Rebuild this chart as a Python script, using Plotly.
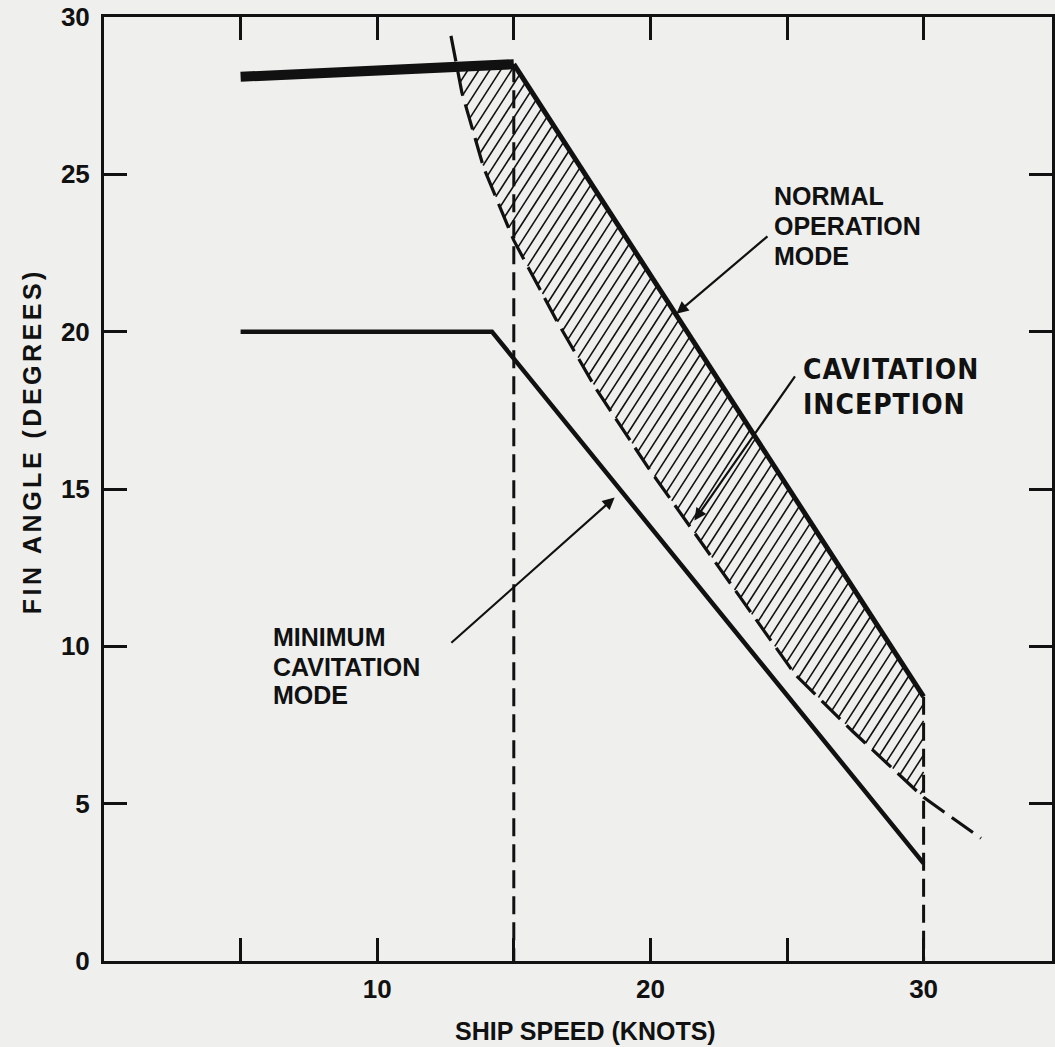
import numpy as np
import plotly.graph_objects as go

# Fin angle (degrees) versus ship speed (knots)
normal_speed = [5.0, 15.0, 30.0]          # normal operation mode
normal_angle = [28.1, 28.5, 8.4]

mincav_speed = [5.0, 14.2, 30.0]          # minimum cavitation mode
mincav_angle = [20.0, 20.0, 3.1]

incep_speed = [12.7, 13.1, 13.9, 15.0, 16.6, 18.0, 19.9, 21.7, 23.8, 25.3, 27.4, 30.0, 32.1]
incep_angle = [29.4, 27.6, 25.2, 22.9, 20.3, 18.2, 15.7, 13.5, 10.9, 9.1, 7.3, 5.2, 3.9]

x_tickvals = [5, 10, 15, 20, 25, 30]
x_ticktext = ["", "10", "", "20", "", "30"]
y_tickvals = [0, 5, 10, 15, 20, 25, 30]
y_ticktext = ["0", "5", "10", "15", "20", "25", "30"]

INK = "#111111"
PAPER = "#efefed"
FONT = "Liberation Sans"

# plot-area geometry in pixels, used to place the rotated axis titles
L, R, T, B = 104, 0, 17, 86
W, H = 1055, 1047
PW, PH = W - L - R, H - T - B


def upper(x):
    return np.interp(x, normal_speed, normal_angle)


def lower(x):
    return np.interp(x, incep_speed, incep_angle)


# hatched band between cavitation inception and the normal operation limit
x_end = normal_speed[-1]
probe = np.linspace(incep_speed[0], x_end, 4001)
x_tip = probe[np.argmax(upper(probe) - lower(probe) >= 0)]
grid = np.linspace(x_tip, x_end, 6000)
hatch_slope = 1.35
hatch_step = 0.54
c_lo = np.min(lower(grid) - hatch_slope * grid)
c_hi = np.max(upper(grid) - hatch_slope * grid)
hx, hy = [], []
for c in np.arange(c_lo + hatch_step / 2, c_hi, hatch_step):
    h = hatch_slope * grid + c
    inside = (h >= lower(grid)) & (h <= upper(grid))
    if inside.sum() < 2:
        continue
    xi = grid[inside]
    hx += [xi[0], xi[-1], None]
    hy += [hatch_slope * xi[0] + c, hatch_slope * xi[-1] + c, None]

fig = go.Figure()

fig.add_trace(go.Scatter(x=hx, y=hy, mode="lines",
                         line=dict(color=INK, width=1.6), hoverinfo="skip"))

# cavitation inception boundary
fig.add_trace(go.Scatter(x=incep_speed, y=incep_angle, mode="lines",
                         line=dict(color=INK, width=3.2, dash="26px,9px")))

# vertical speed limits
for s in (normal_speed[1], normal_speed[2]):
    fig.add_trace(go.Scatter(x=[s, s], y=[float(upper(s)), 0], mode="lines",
                             line=dict(color=INK, width=3, dash="18px,8px")))

# minimum cavitation mode
fig.add_trace(go.Scatter(x=mincav_speed, y=mincav_angle, mode="lines",
                         line=dict(color=INK, width=4.5)))

# normal operation mode: heavy flat segment, then the falling limit
fig.add_trace(go.Scatter(x=normal_speed[:2], y=normal_angle[:2], mode="lines",
                         line=dict(color=INK, width=10)))
fig.add_trace(go.Scatter(x=normal_speed[1:], y=normal_angle[1:], mode="lines",
                         line=dict(color=INK, width=5)))

label_font = dict(family=FONT, size=25, color=INK, weight="bold")
stencil_font = dict(family="DejaVu Sans Condensed", size=28, color=INK, weight="bold")

annotations = []
for text, yv in (("NORMAL", 24.3), ("OPERATION", 23.35), ("MODE", 22.4)):
    annotations.append(dict(x=24.45, y=yv, text=text, showarrow=False,
                            xanchor="left", yanchor="middle", font=label_font))
for text, yv in (("MINIMUM", 10.3), ("CAVITATION", 9.35), ("MODE", 8.45)):
    annotations.append(dict(x=6.1, y=yv, text=text, showarrow=False,
                            xanchor="left", yanchor="middle", font=label_font))
for text, yv in (("CAVITATION", 18.8), ("INCEPTION", 17.7)):
    annotations.append(dict(x=25.5, y=yv, showarrow=False,
                            text='<span style="letter-spacing:1px">' + text + '</span>',
                            xanchor="left", yanchor="middle", font=stencil_font))

# pointer arrows
for tip, tail in (((20.95, 20.57), (24.34, 23.07)),
                  ((18.69, 14.73), (12.66, 10.07)),
                  ((21.61, 14.0), (25.33, 18.63))):
    annotations.append(dict(x=tip[0], y=tip[1], ax=tail[0], ay=tail[1],
                            xref="x", yref="y", axref="x", ayref="y",
                            text="", showarrow=True, arrowhead=2,
                            arrowsize=1.1, arrowwidth=2.2, arrowcolor=INK))

# axis titles
annotations.append(dict(x=(32 - L) / PW, y=(H - B - 441) / PH,
                        xref="paper", yref="paper",
                        xanchor="center", yanchor="middle",
                        text='<span style="letter-spacing:3.5px">FIN ANGLE (DEGREES)</span>',
                        textangle=-90, showarrow=False,
                        font=dict(family=FONT, size=25, color=INK, weight="bold")))
annotations.append(dict(x=(587 - L) / PW, y=(H - B - 1031) / PH,
                        xref="paper", yref="paper",
                        xanchor="center", yanchor="middle",
                        text="SHIP SPEED (KNOTS)", showarrow=False,
                        font=dict(family=FONT, size=25, color=INK, weight="bold")))

axis_common = dict(showline=True, linecolor=INK, linewidth=3, mirror="ticks",
                   ticks="inside", ticklen=23, tickwidth=3, tickcolor=INK,
                   showgrid=False, zeroline=False,
                   tickfont=dict(family=FONT, size=26, color=INK, weight="bold"))

fig.update_layout(
    width=W, height=H,
    margin=dict(l=L, r=R, t=T, b=B),
    paper_bgcolor=PAPER, plot_bgcolor=PAPER,
    showlegend=False,
    xaxis=dict(range=[0, 34.7], tickmode="array", tickvals=x_tickvals,
               ticktext=x_ticktext, ticklabelstandoff=3, **axis_common),
    yaxis=dict(range=[0, 30], tickmode="array", tickvals=y_tickvals,
               ticktext=y_ticktext, ticklabelstandoff=6, **axis_common),
    annotations=annotations,
)

fig.write_html("out.html")
